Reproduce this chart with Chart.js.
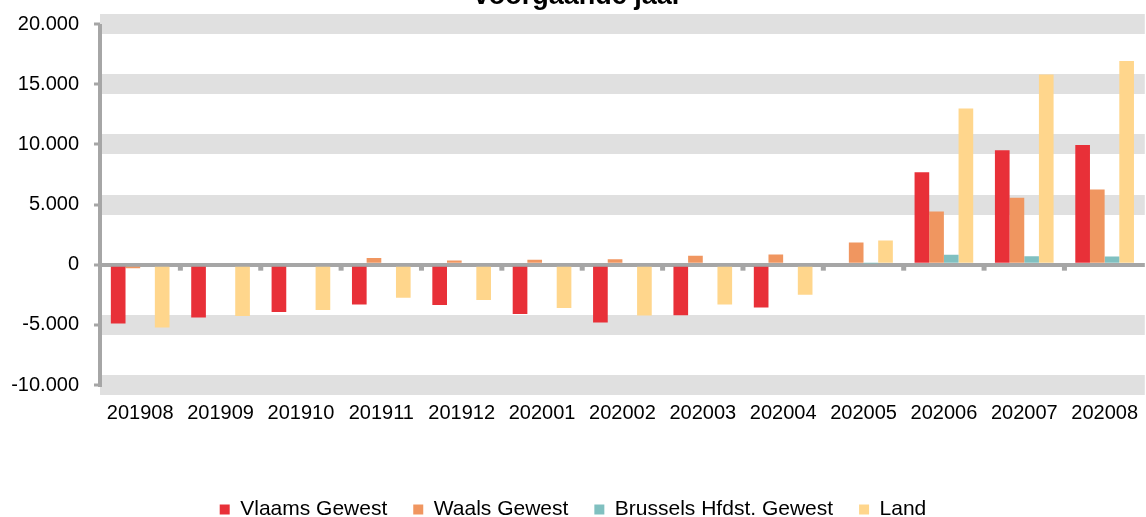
<!DOCTYPE html>
<html>
<head>
<meta charset="utf-8">
<script src="https://cdn.jsdelivr.net/npm/chart.js@4"></script>
<style>
    html, body { margin: 0; padding: 0; background: #fff; overflow: hidden; }
    #wrap { width: 1146px; height: 530px; position: relative; }
</style>
</head>
<body>
<div id="wrap"><canvas id="myChart"></canvas></div>
<script>
const categories = ['201908', '201909', '201910', '201911', '201912', '202001', '202002',
    '202003', '202004', '202005', '202006', '202007', '202008'];
const vlaams = [-4890, -4400, -3940, -3300, -3350, -4100, -4800, -4200, -3550, 0, 7670, 9500, 9950];
const waals = [-300, 0, 150, 550, 350, 400, 450, 750, 850, 1850, 4420, 5560, 6250];
const brussel = [0, 0, 0, 0, 0, 0, 0, 0, 0, 100, 830, 700, 670];
const land = [-5220, -4270, -3760, -2750, -2940, -3600, -4220, -3300, -2500, 2000, 12970, 15800, 16920];
const seriesNames = ['Vlaams Gewest', 'Waals Gewest', 'Brussels Hfdst. Gewest', 'Land'];
const titleText = 'voorgaande jaar';

const fontFamily = '"Liberation Sans", Arial, sans-serif';
const axisGrey = '#a6a6a6';

function fmt(v) {
    const s = Math.abs(v).toString().replace(/\B(?=(\d{3})+(?!\d))/g, '.');
    return (v < 0 ? '-' : '') + s;
}

// y-as, streepjes onder de nullijn tussen de maanden + afgesneden titel
const extras = {
    id: 'extras',
    afterDatasetsDraw(chart) {
        const ctx = chart.ctx;
        const area = chart.chartArea;
        const y0 = chart.scales.y.getPixelForValue(0);
        const xs = chart.scales.x;
        ctx.save();
        ctx.fillStyle = axisGrey;
        ctx.fillRect(area.left - 2, area.top, 4, area.bottom - area.top + 2);
        for (let i = 1; i < categories.length; i++) {
            const x = (xs.getPixelForTick(i) + xs.getPixelForTick(i - 1)) / 2;
            ctx.fillRect(x - 2.5, y0 + 2, 5, 4);
        }
        ctx.restore();
    },
    afterDraw(chart) {
        const ctx = chart.ctx;
        ctx.save();
        ctx.font = 'bold 27px ' + fontFamily;
        ctx.fillStyle = '#000';
        ctx.textAlign = 'center';
        ctx.textBaseline = 'alphabetic';
        ctx.fillText(titleText, 578, 4);
        ctx.restore();
    }
};

const colors = ['rgb(232, 48, 56)', 'rgb(240, 150, 96)', 'rgb(128, 192, 192)', 'rgb(255, 214, 140)'];
const values = [vlaams, waals, brussel, land];

const datasets = seriesNames.map((name, i) => ({
    label: name,
    data: values[i],
    backgroundColor: colors[i],
    borderWidth: 0,
    categoryPercentage: 0.73,
    barPercentage: 1.0
}));

const ctx = document.getElementById('myChart').getContext('2d');
const chart = new Chart(ctx, {
    type: 'bar',
    data: { labels: categories, datasets: datasets },
    options: {
        responsive: true,
        maintainAspectRatio: false,
        animation: false,
        layout: { padding: { top: 24, right: 0, left: 0, bottom: 0 } },
        plugins: {
            legend: {
                position: 'bottom',
                labels: {
                    boxWidth: 10,
                    boxHeight: 10,
                    padding: 26,
                    color: '#000',
                    font: { family: fontFamily, size: 21 }
                }
            },
            title: { display: false },
            tooltip: { enabled: false }
        },
        scales: {
            x: {
                grid: { display: false },
                border: { display: false },
                ticks: {
                    color: '#000',
                    font: { family: fontFamily, size: 20 },
                    padding: 8,
                    maxRotation: 0,
                    autoSkip: false
                },
                afterFit(scale) { scale.height = 88; }
            },
            y: {
                min: -10000,
                max: 20000,
                ticks: {
                    stepSize: 5000,
                    color: '#000',
                    font: { family: fontFamily, size: 20 },
                    padding: 15,
                    callback: (v) => fmt(v)
                },
                grid: {
                    color: (c) => (c.tick && c.tick.value === 0) ? axisGrey : '#e0e0e0',
                    lineWidth: (c) => (c.tick && c.tick.value === 0) ? 4 : 20,
                    drawTicks: true,
                    tickLength: 6,
                    tickWidth: 3,
                    tickColor: axisGrey
                },
                border: { display: false },
                afterFit(scale) {
                    scale.width = 100;
                    scale.paddingTop = 0;
                    scale.paddingBottom = 0;
                }
            }
        }
    },
    plugins: [extras]
});
</script>
</body>
</html>
